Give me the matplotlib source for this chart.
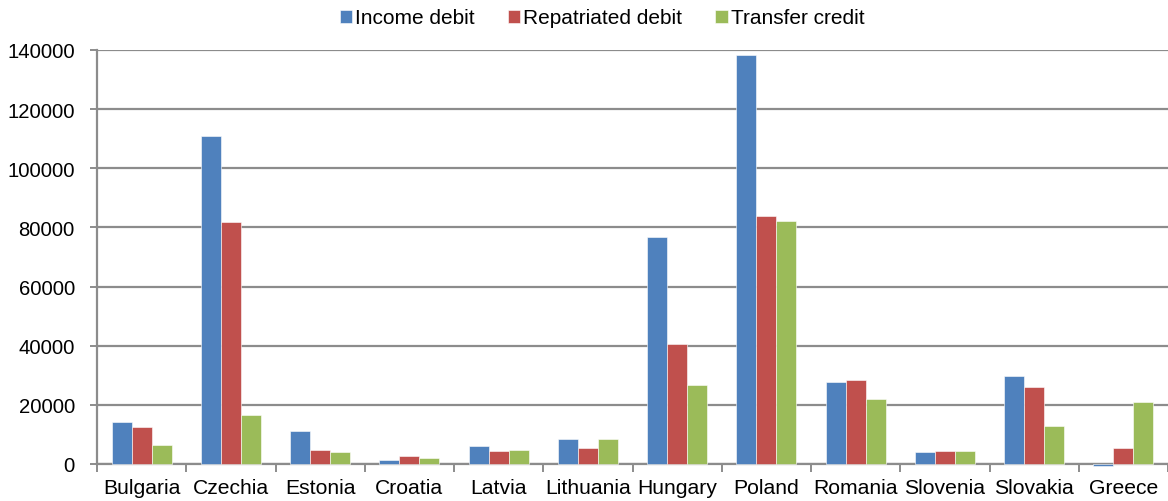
import matplotlib
matplotlib.use("Agg")
import matplotlib.pyplot as plt
import numpy as np

countries = ["Bulgaria", "Czechia", "Estonia", "Croatia", "Latvia", "Lithuania",
             "Hungary", "Poland", "Romania", "Slovenia", "Slovakia", "Greece"]
income_debit = [14100, 111000, 11000, 1500, 6000, 8500, 76700, 138200, 27600, 4000, 29800, -600]
repatriated_debit = [12600, 81800, 4700, 2700, 4300, 5400, 40600, 83700, 28300, 4500, 25900, 5300]
transfer_credit = [6400, 16600, 4000, 2000, 4800, 8500, 26700, 82100, 22000, 4500, 12800, 21000]

series = [
    ("Income debit", income_debit, "#4F81BD"),
    ("Repatriated debit", repatriated_debit, "#C0504D"),
    ("Transfer credit", transfer_credit, "#9BBB59"),
]

plt.rcParams["font.family"] = ["Liberation Sans", "DejaVu Sans"]

fig = plt.figure(figsize=(11.68, 5.02), dpi=100)
ax = fig.add_axes([97 / 1168, 37 / 502, 1 - 97 / 1168, (465 - 51) / 502])

x = np.arange(len(countries))
w = 0.224
for i, (name, vals, col) in enumerate(series):
    ax.bar(x + (i - 1) * w, vals, width=w, color=col, label=name,
           edgecolor="#ffffff", linewidth=0.4, clip_on=False, zorder=3)

ax.set_xlim(-0.5, len(countries) - 0.5)
ax.set_ylim(0, 140000)
ax.set_yticks(np.arange(0, 140001, 20000))
ax.yaxis.grid(True, color="#8c8c8c", linewidth=1.6, zorder=0)
ax.set_axisbelow(True)

ax.set_xticks(x)
ax.set_xticklabels(countries, fontsize=15.2)
ax.set_xticks(np.arange(-0.5, len(countries), 1), minor=True)
ax.tick_params(axis="x", which="major", length=0, pad=10)
ax.tick_params(axis="x", which="minor", length=6, width=1.4, color="#8c8c8c")
ax.tick_params(axis="y", length=5, width=1.4, color="#8c8c8c", labelsize=14.6, pad=11)

for s in ["top", "right"]:
    ax.spines[s].set_visible(False)
for s in ["left", "bottom"]:
    ax.spines[s].set_color("#8c8c8c")
    ax.spines[s].set_linewidth(1.6)

leg = fig.legend(loc="center", bbox_to_anchor=(602 / 1168, 1 - 19 / 502), ncol=3, frameon=False,
                 fontsize=15, handlelength=0.58, handleheight=0.58, handletextpad=0.15,
                 columnspacing=1.6, borderpad=0)

fig.savefig("out.png", dpi=100)
